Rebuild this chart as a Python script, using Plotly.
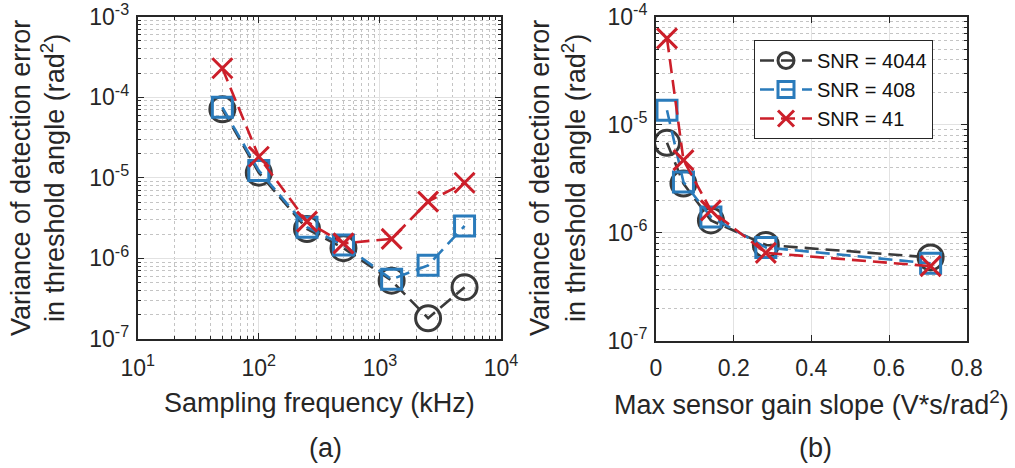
import numpy as np
import plotly.graph_objects as go

# ---- data: panel (a), variance vs sampling frequency ----
fs_khz = [50, 100, 250, 500, 1250, 2500, 5000]
var_a_4044 = [7.1e-5, 1.16e-5, 2.32e-6, 1.34e-6, 5.3e-7, 1.81e-7, 4.4e-7]
var_a_408 = [7.5e-5, 1.23e-5, 2.44e-6, 1.47e-6, 5.5e-7, 8.2e-7, 2.53e-6]
var_a_41 = [2.29e-4, 1.83e-5, 2.86e-6, 1.54e-6, 1.75e-6, 5.07e-6, 8.7e-6]

# ---- data: panel (b), variance vs max sensor gain slope ----
gain_slope = [0.0283, 0.0707, 0.1414, 0.2828, 0.7071]
var_b_4044 = [6.8e-6, 2.85e-6, 1.30e-6, 7.7e-7, 5.9e-7]
var_b_408 = [1.36e-5, 2.95e-6, 1.40e-6, 7.3e-7, 5.2e-7]
var_b_41 = [6.3e-5, 4.7e-6, 1.61e-6, 6.5e-7, 4.9e-7]

snr_labels = ["SNR = 4044", "SNR = 408", "SNR = 41"]

# tick labels
xa_exps = [1, 2, 3, 4]
ya_exps = [-7, -6, -5, -4, -3]
yb_exps = [-7, -6, -5, -4]
xb_ticks = [0, 0.2, 0.4, 0.6, 0.8]
xb_labels = ["0", "0.2", "0.4", "0.6", "0.8"]

FONT = "Liberation Sans, Arial, Helvetica, sans-serif"
TXT = "#262626"
COLORS = ["#3a3a3a", "#2a7bbb", "#cc1f2a"]
SYMBOLS = ["circle-open", "square-open", "x-thin-open"]
SIZES = [25, 20, 20]
DASH = "14px,7px"

W, H = 1015, 468


def px(x):
    return x / W


def py(y):
    return 1 - y / H


def pow_label(e):
    return "10<sup>%d</sup>" % e


fig = go.Figure()

series_a = [var_a_4044, var_a_408, var_a_41]
series_b = [var_b_4044, var_b_408, var_b_41]

for i in range(3):
    fig.add_trace(go.Scatter(
        x=fs_khz, y=series_a[i], mode="lines+markers", name=snr_labels[i],
        xaxis="x", yaxis="y", showlegend=False,
        line=dict(color=COLORS[i], width=2.6, dash=DASH),
        marker=dict(symbol=SYMBOLS[i], size=SIZES[i], color=COLORS[i],
                    line=dict(width=3, color=COLORS[i])),
    ))
for i in range(3):
    fig.add_trace(go.Scatter(
        x=gain_slope, y=series_b[i], mode="lines+markers", name=snr_labels[i],
        xaxis="x2", yaxis="y2", showlegend=True,
        line=dict(color=COLORS[i], width=2.6, dash=DASH),
        marker=dict(symbol=SYMBOLS[i], size=SIZES[i], color=COLORS[i],
                    line=dict(width=3, color=COLORS[i])),
    ))


def log_minor(lo, hi):
    vals = []
    for e in range(lo, hi):
        for m in range(2, 10):
            vals.append(m * 10.0 ** e)
    return vals


axis_common = dict(
    automargin=False,
    showline=True, linecolor=TXT, linewidth=2, mirror="ticks",
    ticks="inside", ticklen=6, tickwidth=1, tickcolor=TXT,
    showgrid=True, gridcolor="#e2e2e2", gridwidth=1,
    zeroline=False,
    tickfont=dict(family=FONT, size=23, color=TXT),
)


def minor_log(lo, hi):
    return dict(
        tickmode="array", tickvals=log_minor(lo, hi), ticks="inside", ticklen=3,
        tickcolor=TXT, showgrid=True, gridcolor="#c4c4c4", griddash="dot", gridwidth=1,
    )


def log_axis(exps, minor=True):
    d = dict(axis_common, type="log", range=[exps[0], exps[-1]],
             tickmode="array", tickvals=[10.0 ** e for e in exps],
             ticktext=[pow_label(e) for e in exps])
    if minor:
        d["minor"] = minor_log(exps[0], exps[-1])
    return d


fig.update_layout(
    width=W, height=H, margin=dict(l=0, r=0, t=0, b=0, autoexpand=False),
    paper_bgcolor="white", plot_bgcolor="white",
    font=dict(family=FONT, color=TXT),
    xaxis=dict(log_axis(xa_exps), domain=[px(137.7), px(501)], anchor="y",
               ticklabelstandoff=7),
    yaxis=dict(log_axis(ya_exps), domain=[py(339), py(16.7)], anchor="x",
               ticklabelstandoff=2),
    xaxis2=dict(axis_common, type="linear", range=[0, 0.8], domain=[px(656), px(966.7)],
                anchor="y2", tickmode="array", tickvals=xb_ticks, ticktext=xb_labels,
                ticklabelstandoff=6),
    yaxis2=dict(log_axis(yb_exps), domain=[py(340.7), py(16.7)], anchor="x2",
                ticklabelstandoff=2),
    legend=dict(
        x=px(754), y=py(40), xanchor="left", yanchor="top",
        bgcolor="white", bordercolor=TXT, borderwidth=1,
        font=dict(family=FONT, size=20, color="#111111"),
        itemwidth=52, tracegroupgap=0,
    ),
)

ann = dict(xref="paper", yref="paper", showarrow=False,
           font=dict(family=FONT, size=27, color=TXT))

# axis titles and panel captions
fig.add_annotation(ann, x=px(319), y=py(403), text="Sampling frequency (kHz)",
                   xanchor="center", yanchor="middle")
fig.add_annotation(ann, x=px(811), y=py(403),
                   text="Max sensor gain slope (V*s/rad<sup>2</sup>)",
                   xanchor="center", yanchor="middle")
fig.add_annotation(ann, x=px(21), y=py(178), text="Variance of detection error",
                   textangle=-90, xanchor="center", yanchor="middle")
fig.add_annotation(ann, x=px(53), y=py(178), text="in threshold angle (rad<sup>2</sup>)",
                   textangle=-90, xanchor="center", yanchor="middle")
fig.add_annotation(ann, x=px(540), y=py(178), text="Variance of detection error",
                   textangle=-90, xanchor="center", yanchor="middle")
fig.add_annotation(ann, x=px(574), y=py(178), text="in threshold angle (rad<sup>2</sup>)",
                   textangle=-90, xanchor="center", yanchor="middle")
fig.add_annotation(ann, x=px(325), y=py(448), text="(a)", xanchor="center", yanchor="middle")
fig.add_annotation(ann, x=px(815), y=py(448), text="(b)", xanchor="center", yanchor="middle")

fig.write_html("out.html")
